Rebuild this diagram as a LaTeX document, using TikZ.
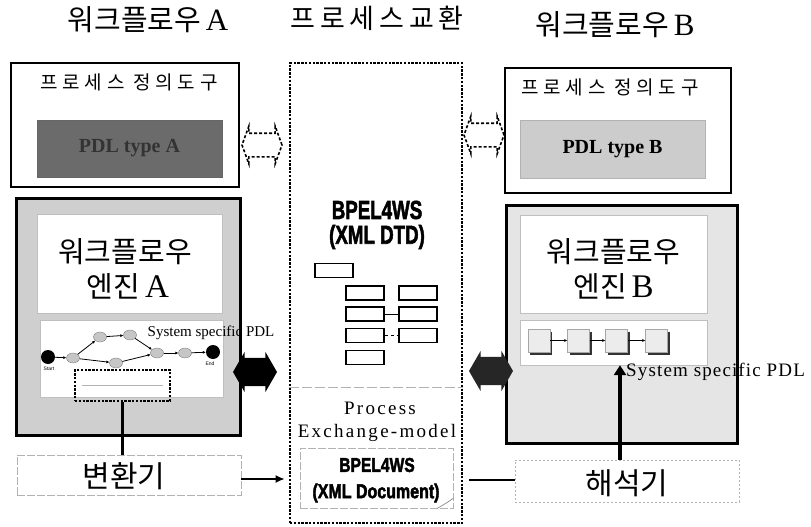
\documentclass[tikz,border=0pt]{standalone}
\usepackage{fontspec}
\setmainfont{Liberation Serif}
\newfontfamily\kr{Noto Sans CJK KR}
\newfontfamily\krwide{Noto Sans CJK KR}[LetterSpace=25]
\newfontfamily\krmid{Noto Sans CJK KR}[LetterSpace=18]
\newfontfamily\hv{Liberation Sans}
\newfontfamily\heavy{Liberation Sans Bold}[FakeBold=2.5]
\newfontfamily\tmsp{Liberation Serif}[LetterSpace=12]
\newfontfamily\tmsl{Liberation Serif}[LetterSpace=6]
\usetikzlibrary{shapes.arrows,shapes.geometric,calc,arrows.meta}
\newcommand{\setfs}[1]{\fontsize{#1}{#1}\selectfont}
\newcommand{\cnd}[3]{\scalebox{#1}[1]{\heavy\setfs{#2}#3}}
\tikzset{
  box/.style={draw, line width=1.6pt, inner sep=0pt, fill=white},
  thickbox/.style={draw, line width=3pt, inner sep=0pt},
  dotbox/.style={draw, line width=2.8pt, dash pattern=on 2.4pt off 1.4pt, inner sep=0pt},
  thinbox/.style={draw=gray!60, line width=0.7pt, dash pattern=on 8pt off 2pt, inner sep=0pt},
  smallrect/.style={draw, line width=1.8pt, minimum width=38pt, minimum height=14pt, inner sep=0pt},
  task/.style={ellipse, draw=gray, fill=gray!45, minimum width=13pt, minimum height=10pt, inner sep=0pt},
  ev/.style={circle, fill=black, minimum size=14pt, inner sep=0pt},
  fatarrow/.style={double arrow, fill=black, inner xsep=0pt, inner ysep=14pt, double arrow head extend=6pt,
     double arrow tip angle=120, minimum height=44pt},
  hexarrow/.style={double arrow, draw, line width=1.6pt, dash pattern=on 3pt off 2pt, inner xsep=0pt, inner ysep=11pt,
     double arrow head extend=7pt, double arrow tip angle=140, minimum height=40pt},
  sq/.style={draw=gray!70, fill=gray!15, minimum width=22pt, minimum height=23pt, inner sep=0pt},
  edge/.style={-{Latex[length=3pt,width=3pt]}, line width=0.8pt},
  lbl/.style={inner sep=0pt}
}
\begin{document}
\begin{tikzpicture}[x=1pt,y=-1pt]
\useasboundingbox (0,0) rectangle (811,527);
\fill[white] (0,0) rectangle (811,527);

% titles
\node[lbl] (tA) at (148,20) {\kr\setfs{29}워크플로우\,\setfs{31}\rmfamily A};
\node[lbl] (tX) at (377,18) {\krmid\setfs{27}프로세스교환};
\node[lbl] (tB) at (615,25) {\kr\setfs{29}워크플로우\,\setfs{31}\rmfamily B};

% central exchange box
\node[dotbox, minimum width=172pt, minimum height=460pt] (cbox) at (376,293) {};
\node[lbl] (bp1) at (377,210) {\cnd{0.72}{26}{BPEL4WS}};
\node[lbl] (bp2) at (377,237) {\cnd{0.72}{26}{(XML DTD)}};
\node[smallrect] (r0) at (334,270.5) {};
\node[smallrect] (r11) at (365,293) {};
\node[smallrect] (r12) at (365,314) {};
\node[smallrect] (r13) at (365,335.5) {};
\node[smallrect] (r14) at (365,357.5) {};
\node[smallrect] (r21) at (418,293) {};
\node[smallrect] (r22) at (418,314) {};
\node[smallrect] (r23) at (418,335.5) {};
\draw[line width=0.6pt] (r12) -- (r22);
\draw[line width=0.6pt, dashed] (r13) -- (r23);
\coordinate (sepL) at (cbox.west |- 0,387);
\coordinate (sepR) at (cbox.east |- 0,387);
\draw[gray!60, line width=0.6pt, dash pattern=on 10pt off 3pt] (sepL) -- (sepR);
\node[lbl] (pr1) at (380,408) {\tmsp\setfs{19}Process};
\node[lbl] (pr2) at (377,433) {\tmsp\setfs{19}Exchange-model};
\node[thinbox, minimum width=153pt, minimum height=60pt] (doc) at (376.5,478) {};
\node[lbl] (bp3) at (377,465) {\cnd{0.78}{20}{BPEL4WS}};
\node[lbl] (bp4) at (376,493) {\cnd{0.8}{20}{(XML Document)}};
\draw[gray, line width=0.6pt] ($(doc.south east)+(-16,0)$) -- ($(doc.south east)+(-6,-6)$) -- ($(doc.south east)+(0,-10)$);

% left definition tool
\node[box, line width=1.8pt, minimum width=228pt, minimum height=124pt] (defA) at (125,125) {};
\node[lbl] (defAt) at (129,82) {\krwide\setfs{19}프로세스 정의도구};
\node[draw=black!60, fill=black!58, minimum width=185pt, minimum height=57pt, inner sep=0pt] (pdlA) at (129.5,148.5) {\bfseries\setfs{20}\color{black!80}PDL type A};
\node[hexarrow] (hxA) at (262,145) {};

% right definition tool
\node[box, line width=1.8pt, minimum width=226pt, minimum height=125pt] (defB) at (618,130.5) {};
\node[lbl] (defBt) at (610,87) {\krwide\setfs{19}프로세스 정의도구};
\node[draw=gray!60, fill=gray!40, minimum width=185pt, minimum height=58pt, inner sep=0pt] (pdlB) at (612.5,149) {\bfseries\setfs{20}PDL type B};
\node[hexarrow] (hxB) at (484,135) {};

% left engine
\node[thickbox, fill=gray!38, minimum width=224pt, minimum height=237pt] (engA) at (128,316.5) {};
\node[draw=gray!50, fill=white, minimum width=185pt, minimum height=99pt, inner sep=0pt] (engAin) at (129.5,263.5) {};
\node[lbl] (engAt1) at (125,252) {\kr\setfs{29}워크플로우};
\node[lbl] (engAt2) at (128,286) {\kr\setfs{29}엔진\,\setfs{33}\rmfamily A};
\node[draw=gray!50, fill=white, minimum width=183pt, minimum height=77pt, inner sep=0pt] (procA) at (131.5,358.5) {};
\node[ev] (s) at (48,357) {};
\node[lbl] (sl) at (49,369) {\hv\setfs{5}Start};
\node[ev] (e) at (213,352) {};
\node[lbl] (el) at (210,364) {\hv\setfs{5}End};
\node[task] (t1) at (73,358) {};
\node[task] (t2) at (100,337) {};
\node[task] (t3) at (130,335) {};
\node[task] (t4) at (116,363) {};
\node[task] (t5) at (157,353) {};
\node[task] (t6) at (185,353) {};
\draw[edge] (s) -- (t1);
\draw[edge] (t1) -- (t2);
\draw[edge] (t2) -- (t3);
\draw[edge] (t3) -- (t5);
\draw[edge] (t1) -- (t4);
\draw[edge] (t4) -- (t5);
\draw[edge] (t5) -- (t6);
\draw[edge] (t6) -- (e);
\node[dotbox, line width=2.2pt, minimum width=95pt, minimum height=31pt] (sub) at (122.5,385.5) {};
\draw[gray!60, line width=0.5pt] ($(sub.west)+(8,0)$) -- ($(sub.east)+(-8,0)$);
\node[lbl] (spA) at (211,333) {\setfs{15}System specific PDL};
\node[fatarrow] (faA) at (255,372) {};

% right engine
\node[thickbox, fill=gray!20, minimum width=231pt, minimum height=238pt] (engB) at (621.5,324) {};
\node[draw=gray!50, fill=white, minimum width=187pt, minimum height=98pt, inner sep=0pt] (engBin) at (613.5,264) {};
\node[lbl] (engBt1) at (613.5,252) {\kr\setfs{29}워크플로우};
\node[lbl] (engBt2) at (613.5,286) {\kr\setfs{29}엔진\,\setfs{33}\rmfamily B};
\node[draw=gray!50, fill=white, minimum width=187pt, minimum height=45pt, inner sep=0pt] (procB) at (613.5,342.5) {};
\foreach \n/\x in {q1/539,q2/578.5,q3/616.5,q4/656.5}{
  \fill[black!80] (\x-9,340.5-9) rectangle (\x+13,340.5+14);
  \node[sq] (\n) at (\x,340.5) {};
}
\draw[edge, line width=1.5pt] (q1) -- (q2);
\draw[edge, line width=1.5pt] (q2) -- (q3);
\draw[edge, line width=1.5pt] (q3) -- (q4);
\node[lbl, anchor=west] (spB) at (626,372) {\tmsl\setfs{19}System specific PDL};
\node[fatarrow, fill=black!85] (faB) at (491,371) {};

% converter and interpreter
\node[thinbox, minimum width=224pt, minimum height=40pt] (conv) at (129,475) {};
\node[lbl] (convt) at (124,476) {\kr\setfs{30}변환기};
\node[thinbox, dash pattern=on 2pt off 2pt, minimum width=224pt, minimum height=42pt] (intp) at (627,481) {};
\node[lbl] (intpt) at (627,483) {\kr\setfs{30}해석기};

\draw[line width=3pt] (sub.south) -- (sub.south |- conv.north);
\coordinate (a1) at ($(conv.east)+(0,4)$);
\coordinate (a2) at (cbox.west |- a1);
\draw[line width=1.4pt, -{Latex[length=9pt,width=8pt]}] (a1) -- ($(a2)+(-4,0)$);
\coordinate (b1) at ($(cbox.east |- intp.west)+(6,-1)$);
\coordinate (b2) at ($(intp.west)+(0,-1)$);
\draw[line width=1.4pt] (b1) -- (b2);
\coordinate (up) at ($(intp.north)+(-7,0)$);
\draw[line width=4pt, -{Triangle[length=10pt,width=12pt]}] (up) -- (up |- procB.south);
\end{tikzpicture}
\end{document}
